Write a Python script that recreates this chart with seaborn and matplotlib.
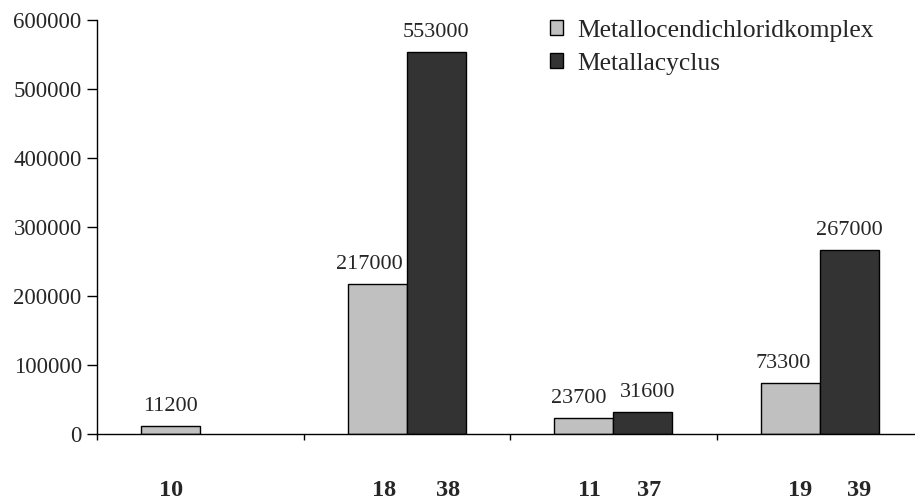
import numpy as np
import pandas as pd
import matplotlib
matplotlib.use("Agg")
import matplotlib.pyplot as plt
from matplotlib.transforms import blended_transform_factory
import seaborn as sns

# Compound numbers for each pair and the measured values
dichloride_ids = ["10", "18", "11", "19"]
cycle_ids = ["", "38", "37", "39"]
dichloride_vals = [11200, 217000, 23700, 73300]
cycle_vals = [np.nan, 553000, 31600, 267000]
series_names = ["Metallocendichloridkomplex", "Metallacyclus"]
y_ticks = [0, 100000, 200000, 300000, 400000, 500000, 600000]

groups = list(range(len(dichloride_ids)))
df = pd.DataFrame({
    "group": groups * 2,
    "series": [series_names[0]] * len(groups) + [series_names[1]] * len(groups),
    "value": dichloride_vals + cycle_vals,
})

sns.set_style("white")
plt.rcParams["font.family"] = ["Liberation Serif", "DejaVu Serif"]
plt.rcParams["font.size"] = 16

fig = plt.figure(figsize=(9.15, 5.0), dpi=100)
ax = fig.add_axes([97 / 915, 66 / 500, 826 / 915, 414 / 500])

sns.barplot(data=df, x="group", y="value", hue="series", hue_order=series_names,
            palette=["#C0C0C0", "#333333"], width=0.572, gap=0,
            edgecolor="black", linewidth=1.0, saturation=1, ax=ax, legend=True)

ax.set_xlim(-0.5, len(groups) - 0.5)
ax.set_ylim(0, 600000)
ax.set_yticks(y_ticks)
ax.set_yticklabels([str(v) for v in y_ticks])
ax.set_xticks(np.arange(-0.5, len(groups) + 0.5, 1.0))
ax.set_xticklabels([])
ax.set_xlabel("")
ax.set_ylabel("")
for side in ("top", "right"):
    ax.spines[side].set_visible(False)
for side in ("left", "bottom"):
    ax.spines[side].set_linewidth(1.0)
    ax.spines[side].set_color("black")
ax.tick_params(axis="y", direction="out", length=7, width=1.0, color="black",
               labelsize=16.5, pad=4, left=True)
ax.tick_params(axis="x", direction="out", length=4, width=1.0, color="black", bottom=True)

# Horizontal nudges (pixels) so neighbouring labels do not collide
value_dx = [[0, -8, -5, -7], [0, 0, 5, 0]]
id_dx = [[0, 7, 6, 10], [0, 12, 6, 10]]

id_lists = [dichloride_ids, cycle_ids]
trans = blended_transform_factory(ax.transData, ax.transAxes)
for s, (container, ids) in enumerate(zip(ax.containers, id_lists)):
    for bar in container:
        h = bar.get_height()
        if not np.isfinite(h) or h <= 0:
            continue
        xc = bar.get_x() + bar.get_width() / 2
        g = int(round(xc))
        ax.annotate(f"{int(round(h))}", (xc, h), xytext=(value_dx[s][g], 10),
                    textcoords="offset pixels", ha="center", va="bottom", fontsize=16)
        ax.annotate(ids[g], (xc, 0), xycoords=trans, xytext=(id_dx[s][g], -57),
                    textcoords="offset pixels", ha="center", va="center",
                    fontsize=17.5, fontweight="bold", annotation_clip=False)

handles, labels = ax.get_legend_handles_labels()
ax.legend_.remove()
leg = fig.legend(handles, labels, loc="upper left", bbox_to_anchor=(550 / 915, 1 - 20 / 500),
                 frameon=False, fontsize=18.4, handlelength=0.52, handleheight=0.52,
                 handletextpad=0.55, labelspacing=0.42, borderaxespad=0, borderpad=0)

fig.savefig("out.png", dpi=100)
